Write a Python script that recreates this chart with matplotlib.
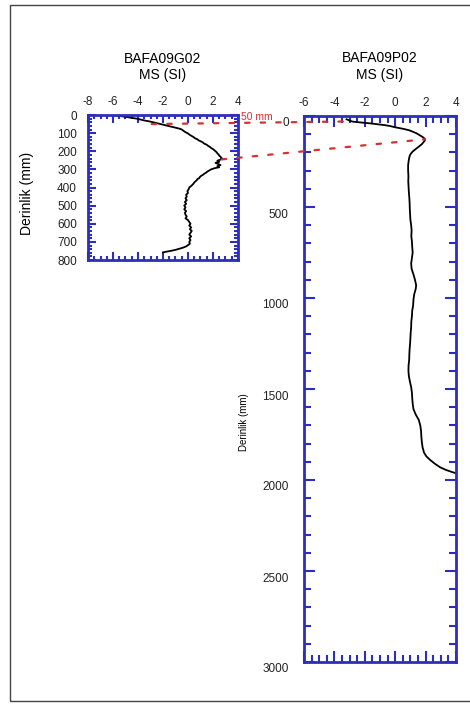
import numpy as np
import matplotlib
matplotlib.use('Agg')
import matplotlib.pyplot as plt
from matplotlib.patches import ConnectionPatch, Rectangle
from matplotlib.ticker import MultipleLocator
import matplotlib.transforms as mtransforms

plt.rcParams['font.family'] = ['Liberation Sans', 'DejaVu Sans']
plt.rcParams['axes.unicode_minus'] = False

# core BAFA09G02 : depth (mm) and magnetic susceptibility (SI)
g02_depth = [0, 4, 8, 12, 16, 20, 25, 30, 35, 40, 45, 50, 55, 60, 65, 70, 75, 80,
             88, 95, 102, 110, 116, 122, 128, 134, 140, 146, 152, 158, 164, 170,
             176, 182, 188, 194, 200, 206, 212, 218, 224, 230, 236, 241, 246, 252,
             258, 264, 270, 276, 282, 288, 294, 300, 306, 312, 318, 324, 330, 336,
             342, 348, 354, 360, 366, 372, 378, 385, 392, 400, 410, 420, 430, 440,
             450, 460, 470, 480, 490, 500, 510, 520, 530, 540, 550, 560, 570, 580,
             590, 600, 610, 620, 630, 640, 650, 660, 670, 680, 690, 700, 710, 718,
             725, 732, 738, 744, 750, 755, 758]
g02_ms = [-6.1, -5.6, -5.2, -4.8, -4.5, -4.1, -3.8, -3.5, -3.1, -2.8, -2.5, -2.2,
          -1.9, -1.6, -1.3, -1.0, -0.7, -0.5, -0.35, -0.2, 0.0, 0.15, 0.3, 0.45,
          0.55, 0.75, 0.85, 1.05, 1.2, 1.3, 1.5, 1.6, 1.75, 1.85, 2.0, 2.1, 2.2,
          2.3, 2.35, 2.45, 2.5, 2.6, 2.65, 2.75, 2.6, 2.35, 2.5, 2.2, 2.4, 2.6,
          2.35, 2.5, 2.1, 1.85, 1.7, 1.55, 1.45, 1.3, 1.2, 1.05, 0.95, 0.9, 0.75,
          0.7, 0.6, 0.5, 0.45, 0.35, 0.25, 0.1, 0.05, -0.05, 0.0, -0.15, -0.1,
          -0.2, -0.1, -0.25, -0.15, -0.3, -0.2, -0.3, -0.15, -0.25, -0.2, -0.1,
          -0.2, 0.0, 0.1, 0.2, 0.1, 0.25, 0.15, 0.3, 0.2, 0.1, 0.25, 0.1, 0.2,
          0.1, 0.15, 0.0, -0.15, -0.4, -0.7, -1.0, -1.4, -1.8, -2.0]

# core BAFA09P02
p02_depth = [18, 25, 31, 36, 40, 45, 50, 55, 62, 70, 78, 86, 95, 105, 115, 125,
             135, 145, 155, 165, 175, 185, 195, 205, 215, 230, 250, 270, 300, 330,
             360, 390, 420, 450, 480, 510, 540, 570, 600, 630, 660, 690, 720, 750,
             780, 810, 840, 870, 900, 930, 950, 980, 1010, 1040, 1070, 1100, 1130,
             1160, 1190, 1220, 1250, 1280, 1310, 1340, 1370, 1400, 1430, 1460,
             1490, 1520, 1550, 1580, 1610, 1640, 1670, 1700, 1730, 1760, 1790,
             1820, 1850, 1870, 1890, 1910, 1930, 1945, 1955, 1963]
p02_ms = [-3.2, -3.0, -2.8, -2.2, -1.7, -1.2, -0.7, -0.35, 0.0, 0.5, 0.9, 1.15,
          1.4, 1.6, 1.8, 1.95, 1.95, 1.85, 1.75, 1.6, 1.45, 1.3, 1.15, 1.05, 0.97,
          0.92, 0.88, 0.85, 0.85, 0.87, 0.86, 0.88, 0.9, 0.93, 0.95, 0.96, 0.98,
          1.0, 1.05, 1.08, 1.06, 1.1, 1.12, 1.15, 1.1, 1.05, 1.08, 1.2, 1.3, 1.38,
          1.35, 1.25, 1.2, 1.18, 1.12, 1.1, 1.06, 1.05, 1.02, 1.0, 0.98, 0.95,
          0.93, 0.92, 0.88, 0.87, 0.9, 0.97, 1.05, 1.1, 1.12, 1.15, 1.2, 1.35,
          1.55, 1.65, 1.7, 1.72, 1.75, 1.8, 1.9, 2.05, 2.3, 2.6, 2.95, 3.35, 3.7,
          4.0]

# correlation tie points (ms, depth) : left core -> right core
tie_g02 = [(-2.9, 50), (2.7, 245)]
tie_p02 = [(-3.2, 30), (1.95, 128)]

blue = '#2e2ebc'
red = '#d83030'

fig = plt.figure(figsize=(4.70, 7.04), dpi=100)

# grey frame around the figure
fig.add_artist(Rectangle((10 / 470, 3 / 704), 1.0, 696 / 704, transform=fig.transFigure,
                         fill=False, edgecolor='#444444', linewidth=1.0))

ax1 = fig.add_axes([88 / 470, 1 - 260 / 704, 150 / 470, 145 / 704])
ax2 = fig.add_axes([304 / 470, 1 - 662 / 704, 152 / 470, 546 / 704])


def style_axes(ax, major_len, minor_len):
    for sp in ax.spines.values():
        sp.set_color(blue)
        sp.set_linewidth(2)
    ax.tick_params(which='both', direction='in', color=blue, width=1.5,
                   top=True, bottom=True, left=True, right=True,
                   labeltop=True, labelbottom=False, labelsize=8.5,
                   labelcolor='#222222')
    ax.tick_params(which='major', length=major_len)
    ax.tick_params(which='minor', length=minor_len)
    ax.xaxis.set_major_locator(MultipleLocator(2))
    ax.xaxis.set_minor_locator(MultipleLocator(0.5))


ax1.plot(g02_ms, g02_depth, color='black', linewidth=1.3)
ax1.set_xlim(-8, 4)
ax1.set_ylim(800, 0)
style_axes(ax1, 6, 3)
ax1.yaxis.set_major_locator(MultipleLocator(100))
ax1.yaxis.set_minor_locator(MultipleLocator(20))
ax1.tick_params(axis='y', pad=8)
ax1.tick_params(axis='x', pad=5)
ax1.set_ylabel('Derinlik (mm)', fontsize=10)
ax1.yaxis.set_label_coords(-0.36, 0.46)
ax1.set_title('BAFA09G02\nMS (SI)', fontsize=10, pad=26, linespacing=1.2)

ax2.plot(p02_ms, p02_depth, color='black', linewidth=1.3)
ax2.set_xlim(-6, 4)
ax2.set_ylim(3000, 0)
style_axes(ax2, 8, 5)
ax2.yaxis.set_major_locator(MultipleLocator(500))
ax2.yaxis.set_minor_locator(MultipleLocator(100))
ax2.tick_params(axis='y', pad=11)
ax2.tick_params(axis='x', pad=5)
ax2.set_title('BAFA09P02\nMS (SI)', fontsize=10, pad=27, linespacing=1.2)
ax2.set_ylabel('Derinlik (mm)', fontsize=7)
ax2.yaxis.set_label_coords(-0.365, 0.44)
# depth labels of the long core sit a little below their ticks
shift = mtransforms.ScaledTranslation(0, -0.06, fig.dpi_scale_trans)
for lab in ax2.get_yticklabels():
    lab.set_transform(lab.get_transform() + shift)

# dotted correlation lines
for a, b in zip(tie_g02, tie_p02):
    con = ConnectionPatch(xyA=a, coordsA=ax1.transData, xyB=b, coordsB=ax2.transData,
                          color=red, linewidth=1.6, linestyle=(0, (2, 5)), zorder=5)
    fig.add_artist(con)

ax1.text(1.02, 0.985, '50 mm', transform=ax1.transAxes, color=red, fontsize=7.5,
         ha='left', va='center')

fig.savefig('out.png', dpi=100)
